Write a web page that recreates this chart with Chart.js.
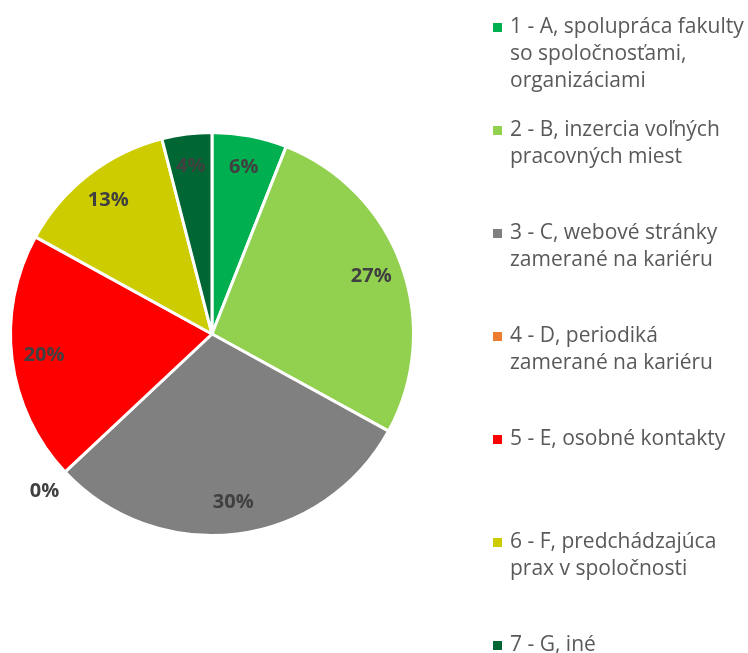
<!DOCTYPE html>
<html>
<head>
<meta charset="utf-8">
<script src="https://cdn.jsdelivr.net/npm/chart.js@4/dist/chart.umd.min.js"></script>
<style>
  html, body { margin: 0; padding: 0; background: #fff; }
  #wrap { width: 748px; height: 653px; }
</style>
</head>
<body>
<div id="wrap"><canvas id="pie"></canvas></div>
<script>
const categories = [
    ['1 - A, spolupráca fakulty', 'so spoločnosťami,', 'organizáciami'],
    ['2 - B, inzercia voľných', 'pracovných miest'],
    ['3 - C, webové stránky', 'zamerané na kariéru'],
    ['4 - D, periodiká', 'zamerané na kariéru'],
    ['5 - E, osobné kontakty'],
    ['6 - F, predchádzajúca', 'prax v spoločnosti'],
    ['7 - G, iné']
];
const shares = [6, 27, 30, 0, 20, 13, 4];
const colors = ['#00B050', '#92D050', '#808080', '#ED7D31', '#FF0000', '#CCCC00', '#006633'];

// percent labels: inside the slice, pushed outside when the slice is empty
const pieLabels = {
    id: 'pieLabels',
    afterDatasetsDraw(chart) {
        const ctx = chart.ctx;
        const meta = chart.getDatasetMeta(0);
        ctx.save();
        ctx.font = 'bold 20px "Open Sans", "Liberation Sans", sans-serif';
        ctx.fillStyle = '#404040';
        ctx.textAlign = 'center';
        ctx.textBaseline = 'middle';
        meta.data.forEach((arc, i) => {
            const p = arc.getProps(['x', 'y', 'startAngle', 'endAngle', 'outerRadius'], true);
            const mid = (p.startAngle + p.endAngle) / 2;
            const f = shares[i] === 0 ? 1.14 : 0.84;
            const x = p.x + Math.cos(mid) * p.outerRadius * f;
            const y = p.y + Math.sin(mid) * p.outerRadius * f;
            ctx.fillText(shares[i] + '%', x, y);
        });
        ctx.restore();
    }
};

// legend on the right with wrapped lines
const sideLegend = {
    id: 'sideLegend',
    afterDraw(chart) {
        const ctx = chart.ctx;
        ctx.save();
        ctx.font = '21px "Open Sans", "Liberation Sans", sans-serif';
        ctx.textBaseline = 'middle';
        ctx.textAlign = 'left';
        const top = 27, step = 103, lineH = 27;
        chart.data.labels.forEach((lines, i) => {
            const y0 = top + i * step;
            ctx.fillStyle = colors[i];
            ctx.fillRect(493, y0 - 4, 9, 9);
            ctx.fillStyle = '#595959';
            lines.forEach((t, j) => ctx.fillText(t, 510, y0 + j * lineH));
        });
        ctx.restore();
    }
};

new Chart(document.getElementById('pie'), {
    type: 'pie',
    data: {
        labels: categories,
        datasets: [{
            data: shares,
            backgroundColor: colors,
            borderColor: '#ffffff',
            borderWidth: 3
        }]
    },
    options: {
        responsive: true,
        maintainAspectRatio: false,
        animation: false,
        layout: { padding: { left: 9, right: 333, top: 131, bottom: 116 } },
        plugins: {
            legend: { display: false },
            tooltip: { enabled: false }
        }
    },
    plugins: [pieLabels, sideLegend]
});
</script>
</body>
</html>
